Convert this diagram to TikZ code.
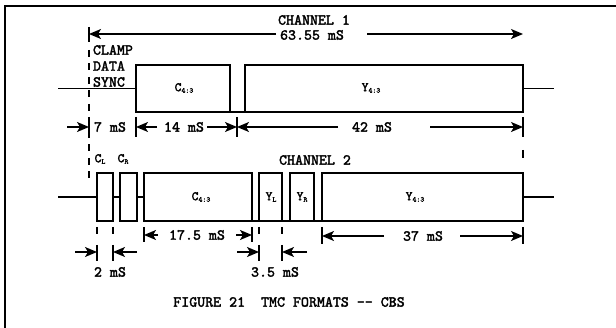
\documentclass[tikz,border=0pt]{standalone}
\usepackage{fontspec}
\newfontfamily\courb[FakeBold=2.2]{lmmono10-regular.otf}
\usetikzlibrary{arrows.meta}
\newcommand\mysub[1]{\raisebox{-1.5pt}{\fontsize{7.5}{8}\selectfont #1}}
\begin{document}
\begin{tikzpicture}[x=1pt,y=-1pt,
  lbl/.style={font=\courb\fontsize{15.2}{17}\selectfont, inner sep=0pt, outer sep=0pt},
  boxlbl/.style={font=\courb\fontsize{13}{15}\selectfont, inner sep=0pt, outer sep=0pt},
  box/.style={draw, line width=1.6pt, inner sep=0pt, outer sep=0pt, anchor=north west},
  wire/.style={line width=1.6pt},
  dim/.style={line width=1.4pt, -{Stealth[length=12pt,width=10pt,inset=3pt]}},
  bar/.style={line width=1.4pt},
  dashline/.style={line width=1.4pt, dash pattern=on 7pt off 6.5pt},
  frame/.style={line width=2pt}]
\useasboundingbox (0,0) rectangle (616,328);
\fill[white] (0,0) rectangle (616,328);
% frame
\coordinate (fr1) at (616,6); \coordinate (fr2) at (5,6); \coordinate (fr3) at (5,328);
\draw[frame] (fr1) -- (fr2) -- (fr3);

% reference dashed line
\coordinate (d1t) at (89,50); \coordinate (d1b) at (89,181);
\draw[dashline] (d1t) -- (d1b);
\coordinate (tb1) at (89,27); \coordinate (tb2) at (89,42);
\draw[bar] (tb1) -- (tb2);

% channel 1 header
\node[lbl] (ch1) at (314,20) {CHANNEL 1};
\node[lbl] (ms63) at (312,35) {63.55 mS};
\coordinate (t1a) at (276,34); \coordinate (t1l) at (89,34);
\coordinate (t1b) at (367,34); \coordinate (t1r) at (523,34);
\draw[dim] (t1a) -- (t1l);
\draw[dim] (t1b) -- (t1r);

% clamp labels
\node[lbl, anchor=west] (clamp) at (93,50) {CLAMP};
\node[lbl, anchor=west] (data) at (93,66) {DATA};
\node[lbl, anchor=west] (sync) at (93,82) {SYNC};

% channel 1 boxes
\node[box, minimum width=94pt, minimum height=47pt] (c1c) at (136,65) {};
\node[box, minimum width=278pt, minimum height=47pt] (c1y) at (245,65) {};
\node[boxlbl] (c1ct) at (184,88) {C\mysub{4:3}};
\node[boxlbl] (c1yt) at (371,88) {Y\mysub{4:3}};
\coordinate (b1l) at (58,88.5); \coordinate (b1r) at (554,88.5);
\draw[wire] (b1l) -- (c1c.west);
\draw[wire] (c1c.south east) -- (c1y.south west);
\draw[wire] (c1y.east) -- (b1r);

% channel 1 dimensions
\coordinate (k1a) at (89,117); \coordinate (k1b) at (89,137);
\coordinate (k2a) at (136,117); \coordinate (k2b) at (136,137);
\coordinate (k3a) at (237,117); \coordinate (k3b) at (237,137);
\coordinate (k4a) at (523,117); \coordinate (k4b) at (523,137);
\draw[bar] (k1a) -- (k1b);
\draw[bar] (k2a) -- (k2b);
\draw[bar] (k3a) -- (k3b);
\draw[bar] (k4a) -- (k4b);
\node[lbl] (t7) at (110,127) {7 mS};
\node[lbl] (t14) at (184,127) {14 mS};
\node[lbl] (t42) at (372,127) {42 mS};
\coordinate (a7s) at (67,127); \coordinate (a7e) at (89,127);
\coordinate (a14s) at (157,127); \coordinate (a14e) at (136,127);
\coordinate (a14t) at (207,127); \coordinate (a14f) at (237,127);
\coordinate (a42s) at (338,127); \coordinate (a42e) at (237,127);
\coordinate (a42t) at (430,127); \coordinate (a42f) at (523,127);
\draw[dim] (a7s) -- (a7e);
\draw[dim] (a14s) -- (a14e);
\draw[dim] (a14t) -- (a14f);
\draw[dim] (a42s) -- (a42e);
\draw[dim] (a42t) -- (a42f);

% channel 2 header
\coordinate (r2a) at (523,150); \coordinate (r2b) at (523,158);
\draw[bar] (r2a) -- (r2b);
\node[lbl] (ch2) at (315,160) {CHANNEL 2};
\node[boxlbl] (clt) at (100,159) {C\mysub{L}};
\node[boxlbl] (crt) at (123,159) {C\mysub{R}};

% channel 2 boxes
\node[box, minimum width=16pt, minimum height=48pt] (cl) at (97,173) {};
\node[box, minimum width=17pt, minimum height=48pt] (cr) at (120,173) {};
\node[box, minimum width=108pt, minimum height=48pt] (c2c) at (144,173) {};
\node[box, minimum width=23pt, minimum height=48pt] (yl) at (259,173) {};
\node[box, minimum width=24pt, minimum height=48pt] (yr) at (290,173) {};
\node[box, minimum width=201pt, minimum height=48pt] (c2y) at (322,173) {};
\node[boxlbl] (c2ct) at (201,197) {C\mysub{4:3}};
\node[boxlbl] (ylt) at (271,197) {Y\mysub{L}};
\node[boxlbl] (yrt) at (302,197) {Y\mysub{R}};
\node[boxlbl] (c2yt) at (415,197) {Y\mysub{4:3}};
\coordinate (b2l) at (58,197); \coordinate (b2r) at (554,197);
\draw[wire] (b2l) -- (cl.west);
\draw[wire] (cl.east) -- (cr.west);
\draw[wire] (cr.east) -- (c2c.west);
\draw[wire] (c2c.south east) -- (yl.south west);
\draw[wire] (yl.south east) -- (yr.south west);
\draw[wire] (yr.south east) -- (c2y.south west);
\draw[wire] (c2y.east) -- (b2r);

% channel 2 dimensions: 2 mS and 3.5 mS
\foreach \xx/\nm in {97/p1,113/p2,259/p3,282/p4}{
  \coordinate (\nm da) at (\xx,227); \coordinate (\nm db) at (\xx,234);
  \coordinate (\nm ba) at (\xx,245); \coordinate (\nm bb) at (\xx,261);
  \draw[bar] (\nm da) -- (\nm db);
  \draw[bar] (\nm ba) -- (\nm bb);
}
\coordinate (a2s) at (75,252); \coordinate (a2e) at (97,252);
\coordinate (a2t) at (137,252); \coordinate (a2f) at (113,252);
\coordinate (a35s) at (237,252); \coordinate (a35e) at (259,252);
\coordinate (a35t) at (307,252); \coordinate (a35f) at (282,252);
\draw[dim] (a2s) -- (a2e);
\draw[dim] (a2t) -- (a2f);
\draw[dim] (a35s) -- (a35e);
\draw[dim] (a35t) -- (a35f);
\node[lbl] (t2) at (110,272) {2 mS};
\node[lbl] (t35) at (275,272) {3.5 mS};

% 17.5 mS
\coordinate (q1a) at (144,227); \coordinate (q1b) at (144,242);
\coordinate (q2a) at (252,227); \coordinate (q2b) at (252,242);
\draw[bar] (q1a) -- (q1b);
\draw[bar] (q2a) -- (q2b);
\coordinate (a17s) at (158,235); \coordinate (a17e) at (144,235);
\coordinate (a17t) at (236,235); \coordinate (a17f) at (252,235);
\draw[dim] (a17s) -- (a17e);
\draw[dim] (a17t) -- (a17f);
\node[lbl] (t17) at (197,235) {17.5 mS};

% 37 mS
\coordinate (q3a) at (322,227); \coordinate (q3b) at (322,244);
\coordinate (q4a) at (523,227); \coordinate (q4b) at (523,244);
\draw[bar] (q3a) -- (q3b);
\draw[bar] (q4a) -- (q4b);
\coordinate (a37s) at (384,236); \coordinate (a37e) at (322,236);
\coordinate (a37t) at (460,236); \coordinate (a37f) at (523,236);
\draw[dim] (a37s) -- (a37e);
\draw[dim] (a37t) -- (a37f);
\node[lbl] (t37) at (423,236) {37 mS};

% caption
\node[lbl] (cap) at (289,302) {FIGURE 21\ \ TMC FORMATS -{}- CBS};
\end{tikzpicture}
\end{document}
